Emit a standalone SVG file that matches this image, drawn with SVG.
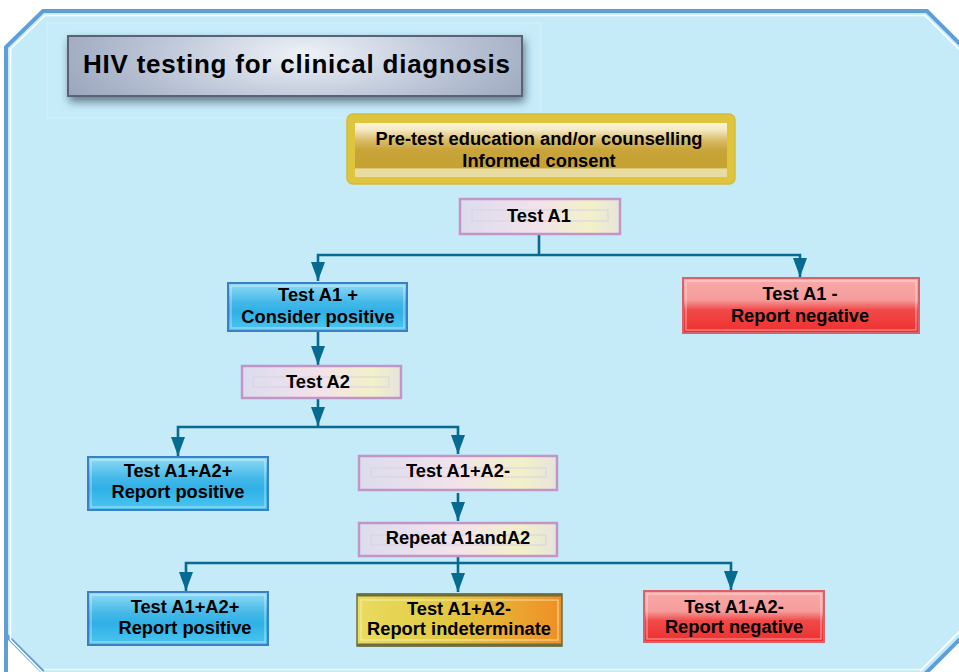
<svg xmlns="http://www.w3.org/2000/svg" width="959" height="672" viewBox="0 0 959 672">
<style>
text{font-family:"Liberation Sans",Arial,sans-serif;font-weight:bold;fill:#000;text-anchor:middle}
.t{font-size:18.3px}
.pastel{fill:url(#gPastel);stroke:#c195c6;stroke-width:2.5}
.pin{fill:none;stroke:#d6d3e2;stroke-width:1}
.blue{fill:url(#gBlue);stroke:#3d7fc6;stroke-width:2}
.red{fill:url(#gRed);stroke:#d9616b;stroke-width:2}
.hl{fill:none;stroke:#ffffff;stroke-opacity:0.55;stroke-width:1}
.con{fill:none;stroke:#066a91;stroke-width:2.6}
</style>
<defs>
<marker id="arr" markerUnits="userSpaceOnUse" markerWidth="19" markerHeight="14" refX="19" refY="7" orient="auto" viewBox="0 0 19 14">
<path d="M0,0 L19,7 L0,14 z" fill="#066a91"/>
</marker>
<linearGradient id="gPastel" x1="0" y1="0" x2="1" y2="0">
<stop offset="0" stop-color="#dcdcee"/>
<stop offset="0.5" stop-color="#f3e2ea"/>
<stop offset="0.82" stop-color="#f2f1c8"/>
<stop offset="1" stop-color="#e6e4dc"/>
</linearGradient>
<linearGradient id="gBlue" x1="0" y1="0" x2="0" y2="1">
<stop offset="0" stop-color="#92dcf5"/>
<stop offset="0.4" stop-color="#44b8e8"/>
<stop offset="0.6" stop-color="#2fb0e6"/>
<stop offset="1" stop-color="#4cc6ef"/>
</linearGradient>
<linearGradient id="gRed" x1="0" y1="0" x2="0" y2="1">
<stop offset="0" stop-color="#f8aaa8"/>
<stop offset="0.4" stop-color="#f59c9b"/>
<stop offset="0.58" stop-color="#f04a48"/>
<stop offset="1" stop-color="#ee2f2f"/>
</linearGradient>
<linearGradient id="gGold" x1="0" y1="0" x2="0" y2="1">
<stop offset="0" stop-color="#fbf4d6"/>
<stop offset="0.12" stop-color="#f4eac4"/>
<stop offset="0.32" stop-color="#d9bc68"/>
<stop offset="0.5" stop-color="#c8a43a"/>
<stop offset="0.83" stop-color="#c6a232"/>
<stop offset="0.85" stop-color="#e8dca2"/>
<stop offset="1" stop-color="#e8dca2"/>
</linearGradient>
<linearGradient id="gInd" x1="0" y1="0" x2="1" y2="0">
<stop offset="0" stop-color="#e8dc60"/>
<stop offset="0.45" stop-color="#e2c940"/>
<stop offset="1" stop-color="#f08e24"/>
</linearGradient>
<radialGradient id="gTitle" cx="0.52" cy="0.3" r="0.6" gradientTransform="translate(0.52 0.3) scale(1 2.5) translate(-0.52 -0.3)">
<stop offset="0" stop-color="#eef2f8"/>
<stop offset="0.5" stop-color="#c0c9da"/>
<stop offset="1" stop-color="#98a3ba"/>
</radialGradient>
<filter id="shadow" x="-10%" y="-30%" width="120%" height="170%">
<feDropShadow dx="2" dy="5" stdDeviation="4" flood-color="#20304a" flood-opacity="0.6"/>
</filter>
</defs>

<g id="frame">
<polygon points="43,11 927,11 965,49 965,634 927,672 43,672 6,635 6,47" fill="#c5ebf9"/>
<polyline points="6,680 6,47 43,11 927,11 965,49" fill="none" stroke="#5f9ed7" stroke-width="4"/>
<polyline points="6,635 43,672" fill="none" stroke="#5f9ed7" stroke-width="4"/>
<polyline points="925,674 963,636" fill="none" stroke="#5f9ed7" stroke-width="4"/>
<polyline points="44,674 10.5,640 10.5,49 45,15.5 925,15.5 962,52" fill="none" stroke="#ffffff" stroke-width="1.6"/>
<line x1="44" y1="669.5" x2="923" y2="669.5" stroke="#f2f6f8" stroke-width="1.6"/>
<line x1="920" y1="671" x2="961" y2="630" stroke="#ffffff" stroke-width="1.6"/>
<rect x="47" y="23" width="494" height="95" fill="#ffffff" fill-opacity="0.05" stroke="#d6f0fb" stroke-width="1"/>
</g>

<g id="title">
<rect x="68" y="36" width="454" height="60" fill="url(#gTitle)" stroke="#5a6274" stroke-width="2" filter="url(#shadow)"/>
<text x="296.5" y="73" font-size="26" textLength="427" lengthAdjust="spacing">HIV testing for clinical diagnosis</text>
</g>

<g id="connectors">
<path class="con" d="M539,234 V255" stroke-width="3.5"/>
<path class="con" d="M539,255 H318 V281" marker-end="url(#arr)"/>
<path class="con" d="M539,255 H800 V277" marker-end="url(#arr)"/>
<path class="con" d="M318,331 V365" stroke-width="3.5" marker-end="url(#arr)"/>
<path class="con" d="M318,398 V426" stroke-width="3" marker-end="url(#arr)"/>
<path class="con" d="M318,427 H178 V456" marker-end="url(#arr)"/>
<path class="con" d="M318,427 H458 V454" marker-end="url(#arr)"/>
<path class="con" d="M458,493 V521" stroke-width="3.5" marker-end="url(#arr)"/>
<path class="con" d="M458,557 V563" stroke-width="3"/>
<path class="con" d="M458,563 H186 V591" marker-end="url(#arr)"/>
<path class="con" d="M458,563 V592" stroke-width="3" marker-end="url(#arr)"/>
<path class="con" d="M458,563 H731 V590" marker-end="url(#arr)"/>
</g>

<g id="pretest">
<rect x="347" y="114" width="388" height="70" rx="6" fill="#dfc43e" stroke="#d6ba36" stroke-width="1.5"/>
<rect x="355" y="123" width="372" height="54" fill="url(#gGold)"/>
<text class="t" x="539" y="145">Pre-test education and/or counselling</text>
<text class="t" x="539" y="167">Informed consent</text>
</g>

<g id="testA1">
<rect class="pastel" x="460" y="199" width="160" height="35"/>
<rect class="pin" x="472" y="210" width="136" height="11"/>
<text class="t" x="539" y="222">Test A1</text>
</g>

<g id="testA1pos">
<rect class="blue" x="228" y="283" width="179" height="48"/>
<rect class="hl" x="231" y="286" width="173" height="42"/>
<text class="t" x="318" y="301">Test A1 +</text>
<text class="t" x="318" y="323">Consider positive</text>
</g>

<g id="testA1neg">
<rect class="red" x="683" y="278" width="236" height="55"/>
<rect class="hl" x="686" y="281" width="230" height="49"/>
<text class="t" x="800" y="300">Test A1 -</text>
<text class="t" x="800" y="322">Report negative</text>
</g>

<g id="testA2">
<rect class="pastel" x="242" y="366" width="159" height="32"/>
<rect class="pin" x="253" y="377" width="136" height="10"/>
<text class="t" x="318" y="388">Test A2</text>
</g>

<g id="repPos1">
<rect class="blue" x="88" y="457" width="180" height="53"/>
<rect class="hl" x="91" y="460" width="174" height="47"/>
<text class="t" x="178" y="477">Test A1+A2+</text>
<text class="t" x="178" y="498">Report positive</text>
</g>

<g id="testA1A2neg">
<rect class="pastel" x="359" y="456" width="198" height="34"/>
<rect class="pin" x="371" y="468" width="175" height="9"/>
<text class="t" x="458" y="477">Test A1+A2-</text>
</g>

<g id="repeat">
<rect class="pastel" x="359" y="523" width="198" height="33"/>
<rect class="pin" x="371" y="535" width="175" height="10"/>
<text class="t" x="458" y="544">Repeat A1andA2</text>
</g>

<g id="repPos2">
<rect class="blue" x="88" y="592" width="180" height="53"/>
<rect class="hl" x="91" y="595" width="174" height="47"/>
<text class="t" x="185" y="613">Test A1+A2+</text>
<text class="t" x="185" y="634">Report positive</text>
</g>

<g id="repInd">
<rect x="357" y="594" width="205" height="52" fill="url(#gInd)" stroke="#6e6c3c" stroke-width="1.5"/>
<line x1="357" y1="595" x2="562" y2="595" stroke="#6e6c3c" stroke-width="3"/>
<line x1="357" y1="645" x2="562" y2="645" stroke="#6e6c3c" stroke-width="3"/>
<rect x="361" y="600" width="197" height="40" fill="none" stroke="#fbf3c8" stroke-opacity="0.8" stroke-width="1"/>
<text class="t" x="459" y="615">Test A1+A2-</text>
<text class="t" x="459" y="635" textLength="184" lengthAdjust="spacing">Report indeterminate</text>
</g>

<g id="repNeg">
<rect class="red" x="644" y="591" width="180" height="51"/>
<rect class="hl" x="647" y="594" width="174" height="45"/>
<text class="t" x="734" y="613">Test A1-A2-</text>
<text class="t" x="734" y="633">Report negative</text>
</g>
</svg>
